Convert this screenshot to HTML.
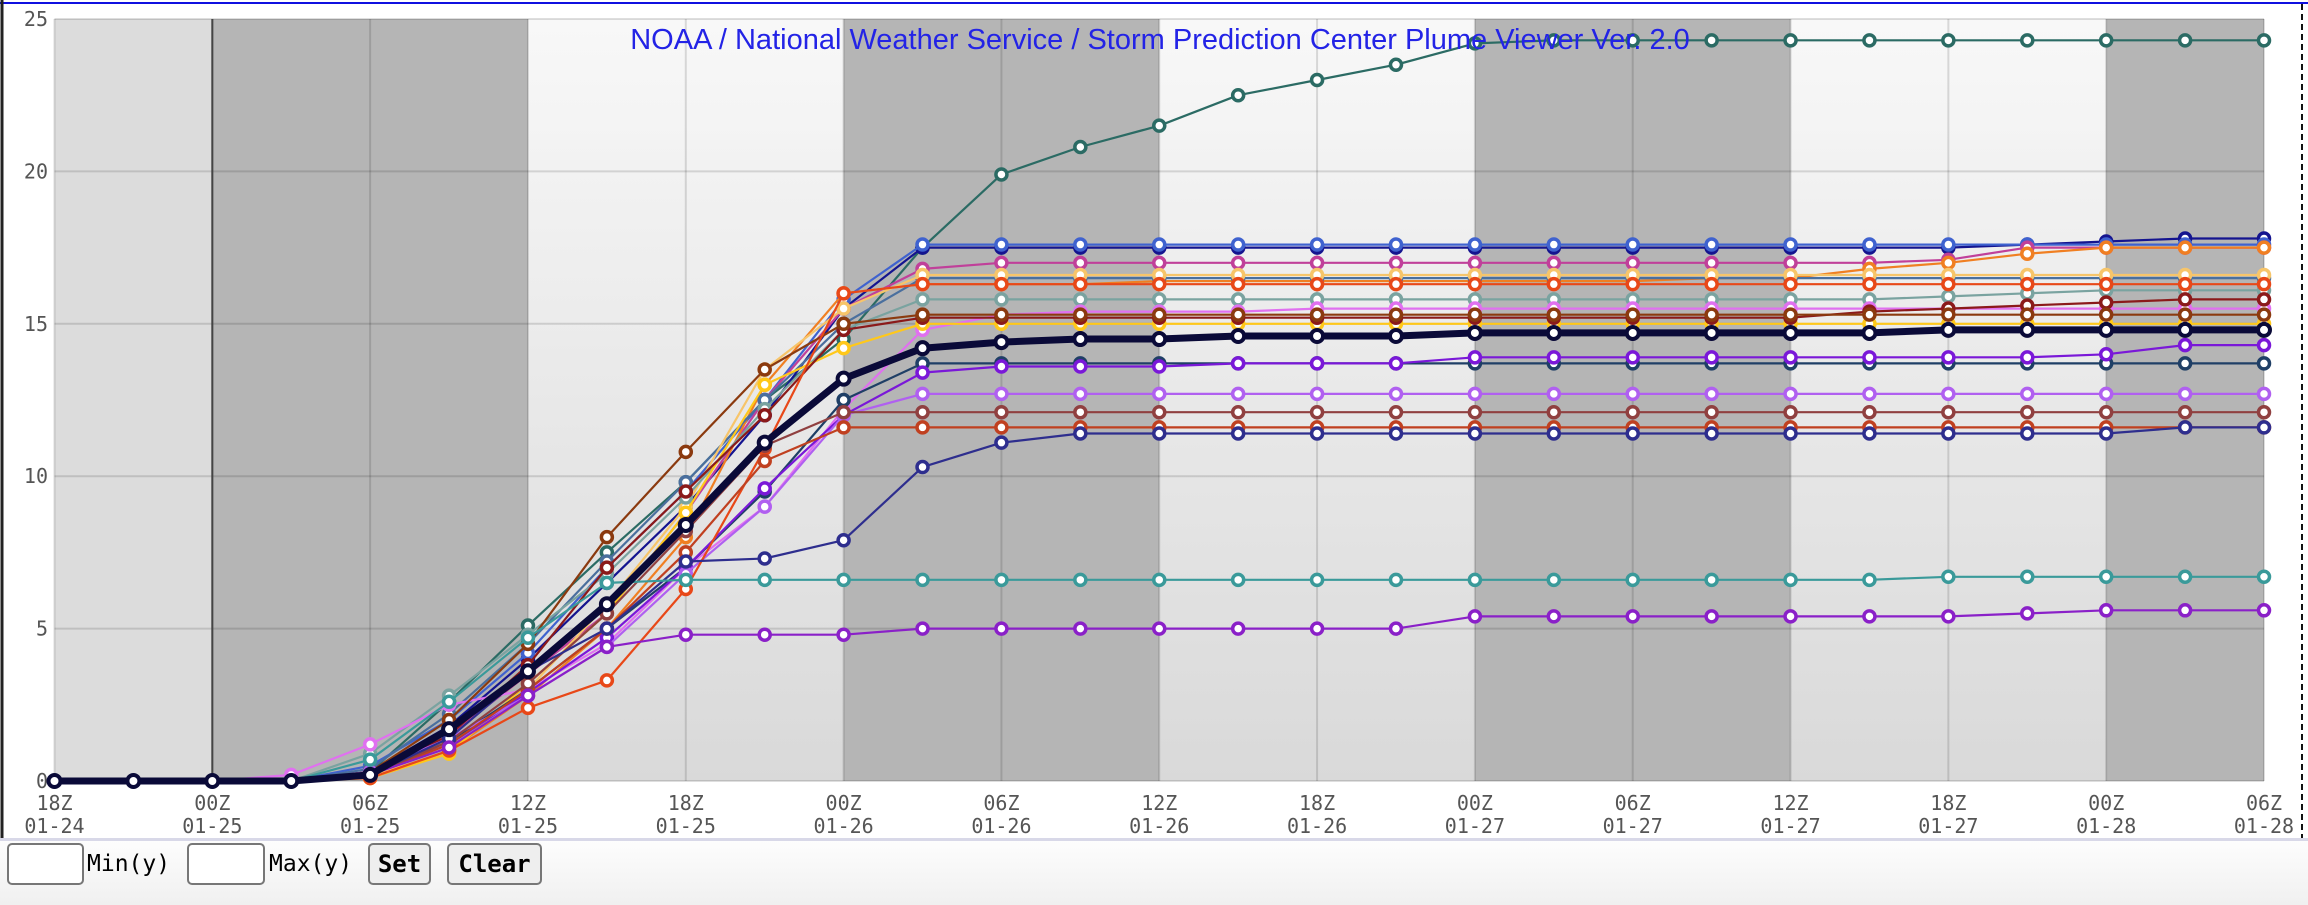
<!DOCTYPE html>
<html><head><meta charset="utf-8"><style>
body{margin:0;width:2308px;height:902px;overflow:hidden;background:#fff;font-family:"DejaVu Sans Mono","Liberation Mono",monospace;}
#wrap{position:absolute;left:0;top:0;width:2308px;height:902px;}
.ctl{position:absolute;top:843px;height:42px;box-sizing:border-box;}
.inp{border:2px solid #777;border-radius:5px;background:#fff;}
.lbl{font-size:23px;line-height:42px;color:#000;}
.btn{border:2px solid #777;border-radius:5px;background:#eee;font-weight:bold;font-size:24px;line-height:38px;text-align:center;}
</style></head><body>
<div id="wrap">
<svg id="chart" width="2308" height="840" style="position:absolute;left:0;top:0"></svg>
<div style="position:absolute;left:0;top:838px;width:2308px;height:64px;background:linear-gradient(#fdfdfd,#f0f0f0);border-top:3px solid #d8d8e8"></div>
<div class="ctl inp" style="left:7px;width:77px"></div>
<div class="ctl lbl" style="left:87px">Min(y)</div>
<div class="ctl inp" style="left:187px;width:78px"></div>
<div class="ctl lbl" style="left:269px">Max(y)</div>
<div class="ctl btn" style="left:368px;width:63px">Set</div>
<div class="ctl btn" style="left:447px;width:95px">Clear</div>
</div>
<script>
const times=["18Z","00Z","06Z","12Z","18Z","00Z","06Z","12Z","18Z","00Z","06Z","12Z","18Z","00Z","06Z"];
const dates=["01-24","01-25","01-25","01-25","01-25","01-26","01-26","01-26","01-26","01-27","01-27","01-27","01-27","01-28","01-28"];
const yTicks=[0,5,10,15,20,25];
const s1=[0,0,0,0,0.3,2.6,5.1,7.5,9.8,12.5,14.5,17.5,19.9,20.8,21.5,22.5,23.0,23.5,24.2,24.3,24.3,24.3,24.3,24.3,24.3,24.3,24.3,24.3,24.3];
const s2=[0,0,0,0,0.3,1.8,4.0,6.5,9.0,12.0,15.5,17.5,17.5,17.5,17.5,17.5,17.5,17.5,17.5,17.5,17.5,17.5,17.5,17.5,17.5,17.6,17.7,17.8,17.8];
const s3=[0,0,0,0,0.5,2.0,4.2,7.0,9.5,12.5,15.8,17.6,17.6,17.6,17.6,17.6,17.6,17.6,17.6,17.6,17.6,17.6,17.6,17.6,17.6,17.6,17.6,17.6,17.6];
const s4=[0,0,0,0,0.2,1.5,3.5,5.5,8.8,12.5,15.5,16.8,17.0,17.0,17.0,17.0,17.0,17.0,17.0,17.0,17.0,17.0,17.0,17.0,17.1,17.5,17.5,17.5,17.5];
const s5=[0,0,0,0,0.1,1.0,2.8,5.0,8.0,13.0,16.0,16.3,16.3,16.3,16.4,16.4,16.4,16.4,16.4,16.4,16.4,16.5,16.5,16.8,17.0,17.3,17.5,17.5,17.5];
const s6=[0,0,0,0,0.4,2.2,4.5,7.2,9.8,12.5,15.0,16.5,16.5,16.5,16.5,16.5,16.5,16.5,16.5,16.5,16.5,16.5,16.5,16.5,16.5,16.5,16.5,16.5,16.5];
const s7=[0,0,0,0,0.1,1.2,3.0,5.8,9.0,13.5,15.5,16.6,16.6,16.6,16.6,16.6,16.6,16.6,16.6,16.6,16.6,16.6,16.6,16.6,16.6,16.6,16.6,16.6,16.6];
const s8=[0,0,0,0,0.9,2.8,4.8,6.8,9.3,12.2,14.8,15.8,15.8,15.8,15.8,15.8,15.8,15.8,15.8,15.8,15.8,15.8,15.8,15.8,15.9,16.0,16.1,16.1,16.1];
const s9=[0,0,0,0.2,1.2,2.5,3.0,4.5,7.0,9.0,12.2,14.8,15.3,15.4,15.4,15.4,15.5,15.5,15.5,15.5,15.5,15.5,15.5,15.5,15.5,15.5,15.5,15.5,15.5];
const s10=[0,0,0,0,0.1,0.9,3.2,5.5,8.8,13.0,14.2,15.0,15.0,15.0,15.0,15.0,15.0,15.0,15.0,15.0,15.0,15.0,15.0,15.0,15.0,15.0,15.0,15.0,15.0];
const s11=[0,0,0,0,0.2,1.5,3.8,7.0,9.5,12.0,14.8,15.2,15.2,15.2,15.2,15.2,15.2,15.2,15.2,15.2,15.2,15.2,15.2,15.4,15.5,15.6,15.7,15.8,15.8];
const s12=[0,0,0,0,0.3,2.0,4.5,8.0,10.8,13.5,15.0,15.3,15.3,15.3,15.3,15.3,15.3,15.3,15.3,15.3,15.3,15.3,15.3,15.3,15.3,15.3,15.3,15.3,15.3];
const s13=[0,0,0,0,0.2,1.3,3.0,5.0,7.0,9.5,12.5,13.7,13.7,13.7,13.7,13.7,13.7,13.7,13.7,13.7,13.7,13.7,13.7,13.7,13.7,13.7,13.7,13.7,13.7];
const s14=[0,0,0,0,0.2,1.2,2.9,4.7,7.0,9.6,12.0,13.4,13.6,13.6,13.6,13.7,13.7,13.7,13.9,13.9,13.9,13.9,13.9,13.9,13.9,13.9,14.0,14.3,14.3];
const s15=[0,0,0,0,0.3,1.4,2.8,4.4,6.8,9.0,12.0,12.7,12.7,12.7,12.7,12.7,12.7,12.7,12.7,12.7,12.7,12.7,12.7,12.7,12.7,12.7,12.7,12.7,12.7];
const s16=[0,0,0,0,0.1,1.0,2.4,3.3,6.3,10.9,16.0,16.3,16.3,16.3,16.3,16.3,16.3,16.3,16.3,16.3,16.3,16.3,16.3,16.3,16.3,16.3,16.3,16.3,16.3];
const s17=[0,0,0,0,0.2,1.2,3.0,5.0,7.5,10.5,11.6,11.6,11.6,11.6,11.6,11.6,11.6,11.6,11.6,11.6,11.6,11.6,11.6,11.6,11.6,11.6,11.6,11.6,11.6];
const s18=[0,0,0,0,0.2,1.3,3.2,5.5,8.2,11.0,12.1,12.1,12.1,12.1,12.1,12.1,12.1,12.1,12.1,12.1,12.1,12.1,12.1,12.1,12.1,12.1,12.1,12.1,12.1];
const s19=[0,0,0,0,0.2,1.4,3.6,5.0,7.2,7.3,7.9,10.3,11.1,11.4,11.4,11.4,11.4,11.4,11.4,11.4,11.4,11.4,11.4,11.4,11.4,11.4,11.4,11.6,11.6];
const s20=[0,0,0,0,0.7,2.6,4.7,6.5,6.6,6.6,6.6,6.6,6.6,6.6,6.6,6.6,6.6,6.6,6.6,6.6,6.6,6.6,6.6,6.6,6.7,6.7,6.7,6.7,6.7];
const s21=[0,0,0,0,0.2,1.1,2.8,4.4,4.8,4.8,4.8,5.0,5.0,5.0,5.0,5.0,5.0,5.0,5.4,5.4,5.4,5.4,5.4,5.4,5.4,5.5,5.6,5.6,5.6];
const mean=[0,0,0,0,0.2,1.7,3.6,5.8,8.4,11.1,13.2,14.2,14.4,14.5,14.5,14.6,14.6,14.6,14.7,14.7,14.7,14.7,14.7,14.7,14.8,14.8,14.8,14.8,14.8];
const seriesList=[s1,s2,s3,s4,s5,s6,s7,s8,s9,s10,s11,s12,s13,s14,s15,s16,s17,s18,s19,s20,s21];
const colors=["#2b6b64","#14148f","#3f62cf","#c0409a","#f07f22","#4a6f9e","#f7c56a","#7aa3a0","#e070f0","#ffc81a","#8b1a1a","#8b3a0f","#1f3f66","#7a18d8","#b060f0","#e84818","#c04020","#904040","#2e2e8e","#3a9a9a","#8a20c8"];

const NS="http://www.w3.org/2000/svg";
const svg=document.getElementById('chart');
const X0=54.5,X1=2264,Y0=781,Y1=19,N=28;
const xs=i=>X0+(X1-X0)*i/N;
const ys=v=>Y0-(Y0-Y1)*v/25;
function mk(tag,attrs,parent){const e=document.createElementNS(NS,tag);for(const k in attrs)e.setAttribute(k,attrs[k]);(parent||svg).appendChild(e);return e;}
const defs=mk('defs',{});
const g=mk('linearGradient',{id:'lg',x1:0,y1:0,x2:0,y2:1},defs);
mk('stop',{offset:0,'stop-color':'#f8f8f8'},g);mk('stop',{offset:1,'stop-color':'#d9d9d9'},g);
const bg=mk('rect',{x:X0,y:Y1,width:X1-X0,height:Y0-Y1,fill:'url(#lg)'});


const dark=[[2,6],[10,14],[18,22],[26,28]];
dark.forEach(d=>{const r=mk('rect',{x:xs(d[0]),y:Y1,width:xs(d[1])-xs(d[0]),height:Y0-Y1,fill:'#b5b5b5'});

});
const lb=mk('rect',{x:X0,y:Y1,width:xs(2)-X0,height:Y0-Y1,fill:'#dcdcdc'});


for(let i=0;i<=N;i+=2){const l=mk('line',{x1:xs(i),x2:xs(i),y1:Y1,y2:Y0,stroke:'rgba(0,0,0,0.13)','stroke-width':2});

}
yTicks.forEach(v=>{const l=mk('line',{x1:X0,x2:X1,y1:ys(v),y2:ys(v),stroke:'rgba(0,0,0,0.13)','stroke-width':2});


const t=mk('text',{x:48,y:ys(v)+7,'text-anchor':'end','font-size':20,fill:'#555','font-family':'DejaVu Sans Mono, monospace'});
t.textContent=v;

});
const nowl=mk('line',{x1:xs(2),x2:xs(2),y1:Y1,y2:Y0,stroke:'#444','stroke-width':2});


times.forEach((tm,k)=>{const x=xs(k*2);
const t=mk('text',{x:x,y:810,'text-anchor':'middle','font-size':20,fill:'#555','font-family':'DejaVu Sans Mono, monospace'});t.textContent=tm;


const d=mk('text',{x:x,y:833,'text-anchor':'middle','font-size':20,fill:'#555','font-family':'DejaVu Sans Mono, monospace'});d.textContent=dates[k];

});
const tb=mk('line',{x1:0,x2:2308,y1:3,y2:3,stroke:'#1010e0','stroke-width':2});


const lbd=mk('line',{x1:2,x2:2,y1:0,y2:840,stroke:'#222','stroke-width':3});


const rb=mk('line',{x1:2302,x2:2302,y1:4,y2:840,stroke:'#111','stroke-width':2,'stroke-dasharray':'6,4'});


function drawSeries(arr,col,w,r,sw,fill,name){
 const grp=mk('g',{});
 
 
 const pts=arr.map((v,i)=>xs(i).toFixed(1)+','+ys(v).toFixed(1)).join(' ');
 const pl=mk('polyline',{points:pts,fill:'none',stroke:col,'stroke-width':w,'stroke-linejoin':'round'},grp);
 
 
 arr.forEach((v,i)=>{const c=mk('circle',{cx:xs(i),cy:ys(v),r:r,fill:fill,stroke:col,'stroke-width':sw},grp);
 
 });
}
seriesList.forEach((s,k)=>drawSeries(s,colors[k],2.2,5.5,3.5,'#fff','member-'+(k+1)));
drawSeries(mean,'#0a0a38',7,6,4,'#fff','ensemble-mean');
const title=mk('text',{x:1160,y:49,'text-anchor':'middle','font-size':29,fill:'#2323e6','font-family':'Liberation Sans, sans-serif'});
title.textContent='NOAA / National Weather Service / Storm Prediction Center Plume Viewer Ver. 2.0';


</script>
</body></html>
